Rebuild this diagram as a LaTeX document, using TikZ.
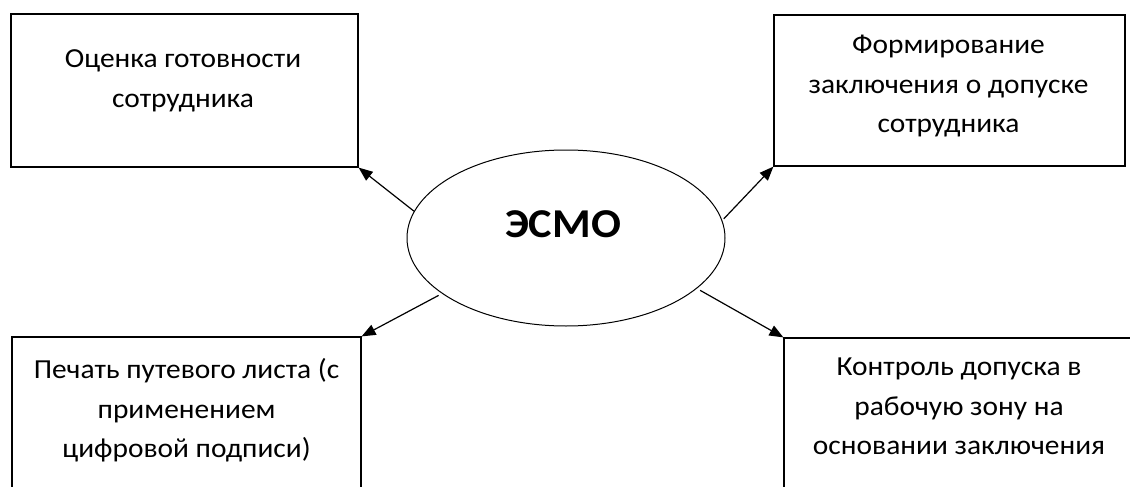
\documentclass[tikz,border=0pt]{standalone}
\usepackage{fontspec}
\setmainfont{Carlito}
\newfontfamily\boxfont[FakeStretch=1.07]{Carlito}
\newfontfamily\hubfont[FakeStretch=1.08]{Carlito}
\usetikzlibrary{shapes.geometric,arrows.meta}
\tikzset{
  boxnode/.style={draw=black, line width=1.2pt, rectangle, inner sep=0pt},
  txt/.style={anchor=north, inner sep=0pt, align=center, font=\boxfont\fontsize{27.5}{39.5}\selectfont},
  hubnode/.style={draw=black, line width=1pt, ellipse, inner sep=0pt},
  conn/.style={line width=1.2pt, -{Triangle[length=14pt,width=11pt]}}
}
\begin{document}
\begin{tikzpicture}[x=1pt,y=-1pt]
\useasboundingbox (0,0) rectangle (1130,487);
\clip (0,0) rectangle (1130,487);
\fill[white] (0,0) rectangle (1130,487);
% boxes
\node[boxnode, minimum width=347pt, minimum height=153pt] (b1) at (184.5,90.5) {};
\node[boxnode, minimum width=351pt, minimum height=151pt] (b2) at (949.5,90.5) {};
\node[boxnode, minimum width=349pt, minimum height=170pt] (b3) at (186.5,422) {};
\node[boxnode, minimum width=350pt, minimum height=170pt] (b4) at (959,423) {};
% texts
\node[txt] (t1) at (183,39.7) {\strut Оценка готовности\\сотрудника};
\node[txt] (t2) at (948.5,25.7) {\strut Формирование\\заключения о допуске\\сотрудника};
\node[txt] (t3) at (186.5,350.7) {\strut Печать путевого листа (с\\применением\\цифровой подписи)};
\node[txt] (t4) at (959,347.7) {\strut Контроль допуска в\\рабочую зону на\\основании заключения};
% hub
\node[hubnode, minimum width=318pt, minimum height=176pt] (e) at (566,238) {};
\node[anchor=base, inner sep=0pt, font=\hubfont\fontsize{41}{47}\selectfont\bfseries] (t0) at (563,237) {ЭСМО};
% connectors
\draw[conn] (e.170) -- (b1.south east);
\draw[conn] ([shift={(2pt,0pt)}]e.7) -- (b2.south west);
\draw[conn] ([shift={(-3pt,-2pt)}]e.204) -- (b3.north east);
\draw[conn] ([shift={(3pt,-2pt)}]e.339) -- (b4.north west);
\end{tikzpicture}
\end{document}
